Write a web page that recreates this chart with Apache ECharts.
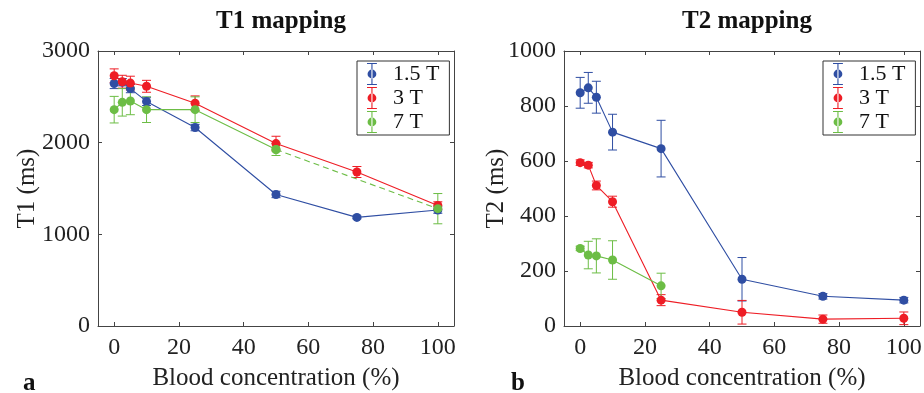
<!DOCTYPE html>
<html>
<head>
<meta charset="utf-8">
<script src="https://cdn.jsdelivr.net/npm/echarts@6/dist/echarts.min.js"></script>
<style>html,body{margin:0;padding:0;background:#fff;}#c{width:924px;height:393px;}</style>
</head>
<body>
<div id="c"></div>
<script>
// ---- data ----
const conc = [0, 2.5, 5, 10, 25, 50, 75, 100];
const xTicks = [0, 20, 40, 60, 80, 100];
const t1Ticks = [0, 1000, 2000, 3000];
const t2Ticks = [0, 200, 400, 600, 800, 1000];
const fields = ['1.5 T', '3 T', '7 T'];

const t1_15 = [2645, 2660, 2590, 2450, 2165, 1435, 1185, 1265];
const t1_15err = [55, 40, 45, 45, 35, 35, 15, 35];
const t1_3 = [2730, 2665, 2650, 2615, 2430, 1990, 1680, 1315];
const t1_3err = [75, 70, 75, 65, 80, 80, 60, 40];
const t1_7 = [2360, 2440, 2455, 2360, 2360, 1925, null, 1280];
const t1_7err = [145, 150, 150, 140, 140, 65, null, 165];

const t2_15 = [848, 866, 832, 705, 645, 170, 108, 94];
const t2_15err = [56, 56, 58, 65, 103, 79, 10, 10];
const t2_3 = [594, 585, 511, 452, 94, 50, 25, 28];
const t2_3err = [10, 10, 16, 20, 20, 43, 15, 23];
const t2_7 = [282, 258, 255, 240, 146, null, null, null];
const t2_7err = [8, 50, 62, 70, 46, null, null, null];

// ---- style ----
const colors = ['#2f4ea3', '#ee1d25', '#6cbd45'];
const FONT = 'Liberation Serif';
const axisCol = '#444';

function pts(vals) {
  const out = [];
  conc.forEach((x, i) => { if (vals[i] != null) out.push([x, vals[i]]); });
  return out;
}
function errs(vals, e) {
  const out = [];
  conc.forEach((x, i) => { if (vals[i] != null && e[i] != null) out.push([x, vals[i] - e[i], vals[i] + e[i]]); });
  return out;
}
function errSeries(idx, data, color) {
  return {
    type: 'custom', xAxisIndex: idx * 2, yAxisIndex: idx * 2, z: 3,
    encode: { x: 0, y: [1, 2] },
    data: data,
    renderItem: function (params, api) {
      const x = api.value(0), lo = api.value(1), hi = api.value(2);
      const p1 = api.coord([x, hi]), p2 = api.coord([x, lo]);
      const w = 4.5;
      const st = { stroke: color, lineWidth: 1, fill: null };
      return { type: 'group', children: [
        { type: 'line', shape: { x1: p1[0], y1: p1[1], x2: p2[0], y2: p2[1] }, style: st },
        { type: 'line', shape: { x1: p1[0] - w, y1: p1[1], x2: p1[0] + w, y2: p1[1] }, style: st },
        { type: 'line', shape: { x1: p2[0] - w, y1: p2[1], x2: p2[0] + w, y2: p2[1] }, style: st }
      ]};
    }
  };
}
function lineSeries(idx, name, data, color, dashed, showSym) {
  return {
    type: 'line', name: name, xAxisIndex: idx * 2, yAxisIndex: idx * 2, z: 4,
    data: data, symbol: 'circle', symbolSize: 9, showSymbol: showSym !== false,
    itemStyle: { color: color, borderWidth: 0 },
    lineStyle: { color: color, width: 1.1, type: dashed ? [6, 4] : 'solid' },
    emphasis: { disabled: true }, animation: false
  };
}

function xAxes(gi) {
  const base = { gridIndex: gi, type: 'value', min: -5, max: 105, splitLine: { show: false },
    axisLine: { show: true, onZero: false, lineStyle: { color: axisCol, width: 1 } } };
  return [
    Object.assign({}, base, {
      position: 'bottom',
      axisTick: { show: true, inside: true, length: 4, customValues: xTicks, lineStyle: { color: axisCol } },
      axisLabel: { show: true, customValues: xTicks, margin: 10, fontFamily: FONT, fontSize: 24, color: '#222',
        formatter: v => String(v) },
      name: 'Blood concentration (%)', nameLocation: 'middle', nameGap: 40,
      nameMoveOverlap: false,
      nameTextStyle: { fontFamily: FONT, fontSize: 25, color: '#222' }
    }),
    Object.assign({}, base, {
      position: 'top',
      axisTick: { show: true, inside: true, length: 4, customValues: xTicks, lineStyle: { color: axisCol } },
      axisLabel: { show: false }
    })
  ];
}
function yAxes(gi, max, interval, name, ticks) {
  const base = { gridIndex: gi, type: 'value', min: 0, max: max, interval: interval, splitLine: { show: false },
    axisLine: { show: true, onZero: false, lineStyle: { color: axisCol, width: 1 } } };
  return [
    Object.assign({}, base, {
      position: 'left',
      axisTick: { show: true, inside: true, length: 4, customValues: ticks, lineStyle: { color: axisCol } },
      axisLabel: { show: true, customValues: ticks, margin: 8, fontFamily: FONT, fontSize: 24, color: '#222',
        formatter: v => String(v) },
      name: name, nameLocation: 'middle', nameGap: gi === 0 ? 58 : 55, nameRotate: 90,
      nameMoveOverlap: false,
      nameTextStyle: { fontFamily: FONT, fontSize: 25, color: '#222' }
    }),
    Object.assign({}, base, {
      position: 'right',
      axisTick: { show: true, inside: true, length: 4, customValues: ticks, lineStyle: { color: axisCol } },
      axisLabel: { show: false }
    })
  ];
}

const icon = 'path://M4.5 0 H5.5 V20 H4.5 Z M0.5 0 H9.5 V1 H0.5 Z M0.5 19 H9.5 V20 H0.5 Z M1 10 A4 4 0 1 0 9 10 A4 4 0 1 0 1 10 Z';
function legend(left, top) {
  return {
    left: left, top: top, orient: 'vertical', data: fields,
    icon: icon, itemWidth: 10, itemHeight: 22, itemGap: 2,
    backgroundColor: '#fff', borderColor: '#333', borderWidth: 1,
    padding: [2, 10, 2, 10], selectedMode: false,
    itemStyle: { borderWidth: 0 },
    textStyle: { fontFamily: FONT, fontSize: 22, color: '#111', padding: [0, 0, 0, 11] }
  };
}

const t1Series = [t1_15, t1_3, t1_7];
const t1Errs = [t1_15err, t1_3err, t1_7err];
const t2Series = [t2_15, t2_3, t2_7];
const t2Errs = [t2_15err, t2_3err, t2_7err];

const series = [];
// left panel
[0, 1, 2].forEach(k => {
  series.push(errSeries(0, errs(t1Series[k], t1Errs[k]), colors[k]));
  if (k === 2) {
    const all = pts(t1Series[k]);
    const solid = all.filter(p => p[0] <= 50);
    const dashed = all.filter(p => p[0] >= 50);
    series.push(lineSeries(0, fields[k], solid, colors[k], false));
    series.push(lineSeries(0, fields[k] + ' ', dashed, colors[k], true));
  } else {
    series.push(lineSeries(0, fields[k], pts(t1Series[k]), colors[k], false));
  }
});
// right panel
[0, 1, 2].forEach(k => {
  series.push(errSeries(1, errs(t2Series[k], t2Errs[k]), colors[k]));
  series.push(lineSeries(1, fields[k], pts(t2Series[k]), colors[k], false));
});

const option = {
  animation: false,
  backgroundColor: '#fff',
  title: [
    { text: 'T1 mapping', left: 276, top: 4, textAlign: 'center',
      textStyle: { fontFamily: FONT, fontWeight: 'bold', fontSize: 25, color: '#111' } },
    { text: 'T2 mapping', left: 742, top: 4, textAlign: 'center',
      textStyle: { fontFamily: FONT, fontWeight: 'bold', fontSize: 25, color: '#111' } },
    { text: 'a', left: 18, top: 366, textStyle: { fontFamily: FONT, fontWeight: 'bold', fontSize: 25, color: '#111' } },
    { text: 'b', left: 506, top: 366, textStyle: { fontFamily: FONT, fontWeight: 'bold', fontSize: 25, color: '#111' } }
  ],
  legend: [legend(357, 61), legend(823, 61)],
  grid: [
    { left: 98, top: 51, width: 356, height: 275, outerBoundsMode: 'none', containLabel: false },
    { left: 564, top: 51, width: 356, height: 275, outerBoundsMode: 'none', containLabel: false }
  ],
  xAxis: xAxes(0).concat(xAxes(1)),
  yAxis: yAxes(0, 3000, 1000, 'T1 (ms)', t1Ticks).concat(yAxes(1, 1000, 200, 'T2 (ms)', t2Ticks)),
  series: series
};
const chart = echarts.init(document.getElementById('c'), null, { renderer: 'canvas' });
chart.setOption(option);
</script>
</body>
</html>
